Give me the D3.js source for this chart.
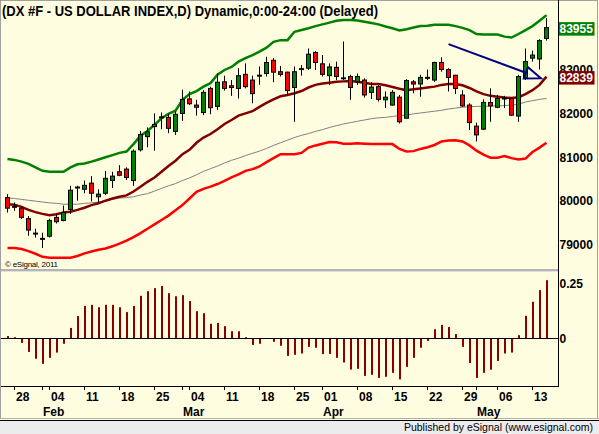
<!DOCTYPE html>
<html>
<head>
<meta charset="utf-8">
<script src="https://cdn.jsdelivr.net/npm/d3@7"></script>
<style>
  body { margin: 0; background: #fff; }
</style>
</head>
<body>
<div id="chart"></div>
<script>
// trading days 2013-01-25 .. 2013-05-15 (Good Friday closed)
const dates = d3.timeDay.range(new Date(2013, 0, 25), new Date(2013, 4, 16))
  .filter(d => d.getDay() > 0 && d.getDay() < 6)
  .map(d3.timeFormat("%Y-%m-%d"))
  .filter(d => d !== "2013-03-29");

const open = [80.08,79.87,79.84,79.60,79.26,79.14,79.20,79.63,79.56,79.81,
  80.31,80.27,80.41,80.10,80.18,80.47,80.67,80.73,80.47,81.17,
  81.47,81.70,81.91,81.91,81.59,82.00,82.33,82.19,82.02,82.57,
  82.16,82.72,82.63,82.57,82.89,82.76,82.86,82.91,83.21,82.95,
  82.94,82.59,83.01,83.03,83.39,83.13,82.86,83.05,82.80,82.84,
  82.72,82.76,82.48,82.61,82.31,82.19,82.37,81.89,82.72,82.67,
  82.81,82.76,83.16,83.00,82.87,82.42,82.19,81.71,81.64,82.25,
  82.14,82.34,82.34,81.94,82.80,83.26,83.24,83.71];
const high = [80.16,79.97,79.89,79.66,79.37,79.28,79.60,79.71,79.90,80.35,
  80.35,80.47,80.57,80.27,80.69,80.67,80.82,80.77,81.18,81.60,
  81.68,82.00,82.02,81.99,82.05,82.54,82.50,82.31,82.53,82.61,
  82.91,82.86,82.76,83.03,83.14,82.86,83.07,83.29,83.26,83.08,
  82.95,83.07,83.10,83.48,83.42,83.33,83.14,83.18,83.64,82.88,
  82.91,82.80,82.71,82.65,82.50,82.53,82.42,82.78,82.76,82.88,
  83.00,83.18,83.28,83.03,82.88,82.53,82.23,81.79,82.32,82.57,
  82.42,82.40,82.37,82.88,83.48,83.43,83.69,84.17];
const low = [79.74,79.78,79.59,79.21,79.17,78.93,79.17,79.49,79.54,79.71,
  80.01,80.18,79.99,79.96,80.14,80.30,80.57,80.48,80.35,81.13,
  81.23,81.15,81.64,81.55,81.51,81.83,82.19,81.95,81.96,81.98,
  82.08,82.52,82.40,82.34,82.57,82.23,82.65,82.84,82.71,82.84,
  82.40,81.81,82.86,82.99,82.99,82.84,82.65,82.76,82.76,82.31,
  82.65,82.36,82.33,82.27,82.12,82.18,81.77,81.89,82.46,82.38,
  82.76,82.72,82.95,82.50,82.44,82.15,81.62,81.36,81.62,81.81,
  82.12,82.12,81.94,81.81,82.76,83.18,83.00,83.66];
const close = [79.84,79.87,79.63,79.34,79.26,79.14,79.56,79.53,79.74,80.25,
  80.31,80.36,80.18,80.16,80.52,80.57,80.59,80.54,81.14,81.52,
  81.58,81.75,81.91,81.66,81.98,82.32,82.22,82.14,82.48,82.13,
  82.71,82.57,82.59,82.86,82.61,82.45,82.86,83.16,82.94,82.89,
  82.52,82.95,83.01,83.35,83.16,82.89,83.06,82.84,82.80,82.59,
  82.84,82.42,82.60,82.32,82.37,82.48,81.81,82.75,82.67,82.82,
  82.81,83.16,83.00,82.82,82.57,82.17,81.79,81.51,82.25,82.17,
  82.34,82.34,81.96,82.84,83.18,83.33,83.66,83.955];

const upperBand = [80.96,80.94,80.90,80.85,80.77,80.69,80.67,80.67,80.67,80.77,
  80.84,80.86,80.90,80.95,81.00,81.05,81.10,81.13,81.30,81.49,
  81.60,81.74,81.89,81.99,82.06,82.31,82.44,82.51,82.61,82.69,
  82.88,82.99,83.06,83.18,83.26,83.33,83.41,83.50,83.63,83.67,
  83.67,83.86,83.90,83.94,83.99,84.03,84.07,84.11,84.13,84.13,
  84.12,84.09,84.06,84.03,83.98,83.94,83.89,83.92,83.96,83.99,
  84.00,84.02,84.02,84.02,83.99,83.95,83.90,83.81,83.80,83.80,
  83.80,83.75,83.73,83.81,83.90,83.99,84.11,84.24];
const midLine = [79.93,79.92,79.87,79.80,79.75,79.71,79.68,79.70,79.74,79.76,
  79.80,79.85,79.91,79.95,80.01,80.06,80.10,80.13,80.22,80.33,
  80.44,80.54,80.67,80.80,80.92,81.07,81.17,81.33,81.45,81.53,
  81.64,81.76,81.85,81.95,82.00,82.05,82.15,82.24,82.32,82.39,
  82.42,82.46,82.51,82.59,82.65,82.68,82.70,82.72,82.73,82.74,
  82.72,82.70,82.67,82.67,82.64,82.60,82.56,82.53,82.55,82.57,
  82.59,82.61,82.65,82.67,82.67,82.64,82.58,82.50,82.44,82.40,
  82.38,82.36,82.35,82.37,82.44,82.53,82.65,82.839];
const lowerBand = [78.93,78.93,78.91,78.86,78.80,78.73,78.71,78.71,78.71,78.71,
  78.75,78.81,78.85,78.89,78.92,78.97,79.03,79.10,79.18,79.27,
  79.37,79.47,79.57,79.67,79.79,79.91,80.06,80.21,80.28,80.33,
  80.39,80.46,80.54,80.61,80.69,80.73,80.79,80.89,80.98,81.07,
  81.07,81.07,81.10,81.22,81.27,81.31,81.35,81.34,81.31,81.31,
  81.32,81.31,81.30,81.30,81.30,81.30,81.19,81.13,81.14,81.19,
  81.23,81.28,81.36,81.38,81.39,81.36,81.27,81.15,81.06,80.99,
  80.99,81.03,80.98,80.95,80.97,81.12,81.22,81.33];
const slowLine = [80.07,80.06,80.04,80.02,80.00,79.98,79.96,79.95,79.93,79.93,
  79.93,79.95,79.96,79.98,80.01,80.04,80.07,80.08,80.10,80.14,
  80.17,80.23,80.29,80.35,80.40,80.47,80.53,80.60,80.68,80.74,
  80.80,80.87,80.93,80.98,81.04,81.09,81.14,81.20,81.27,81.33,
  81.39,81.45,81.50,81.54,81.59,81.63,81.68,81.72,81.76,81.79,
  81.82,81.85,81.88,81.90,81.91,81.93,81.95,81.96,81.99,82.01,
  82.03,82.05,82.07,82.10,82.12,82.14,82.155,82.16,82.16,82.17,
  82.17,82.18,82.19,82.21,82.26,82.29,82.32,82.34];

const osc = [0.011,0.006,-0.020,-0.061,-0.092,-0.115,-0.088,-0.064,-0.024,0.048,
  0.102,0.148,0.153,0.142,0.153,0.153,0.142,0.120,0.148,0.194,
  0.215,0.229,0.239,0.206,0.192,0.197,0.170,0.124,0.115,0.067,
  0.071,0.056,0.033,0.033,0.006,-0.029,-0.024,-0.002,-0.015,-0.033,
  -0.079,-0.074,-0.068,-0.038,-0.042,-0.071,-0.070,-0.088,-0.109,-0.141,
  -0.138,-0.170,-0.165,-0.179,-0.174,-0.156,-0.186,-0.129,-0.088,-0.042,
  -0.011,0.042,0.062,0.052,0.020,-0.038,-0.111,-0.179,-0.156,-0.142,
  -0.102,-0.068,-0.064,0.015,0.103,0.167,0.220,0.265];

const priceTicks = [79, 80, 81, 82, 83];
const oscTicks = [0, 0.25];
const weekTicks = ["2013-01-28","2013-02-04","2013-02-11","2013-02-18","2013-02-25",
  "2013-03-04","2013-03-11","2013-03-18","2013-03-25","2013-04-01","2013-04-08",
  "2013-04-15","2013-04-22","2013-04-29","2013-05-06","2013-05-13"];
const monthStarts = ["2013-02-01","2013-03-01","2013-04-01","2013-05-01"];
const monthNames = ["Feb","Mar","Apr","May"];
const arrowFrom = { i: 63, v: 83.58 };
const arrowTo = { i: 76.2, v: 82.80 };

const W = 599, H = 434;
const FONT = "'Liberation Sans', Arial, sans-serif";
const axisX = 558;
const BG = "#FFFDE0";

const svg = d3.select("#chart").append("svg")
  .attr("width", W).attr("height", H)
  .style("font-family", FONT);

svg.append("rect").attr("width", W).attr("height", H).attr("fill", BG);

const x = d3.scalePoint().domain(dates).range([7, 546]);
const y = d3.scaleLinear().domain([79, 82]).range([245, 113.4]);
const yo = d3.scaleLinear().domain([0, 0.25]).range([338.5, 283.5]);

// panel frame
svg.append("line").attr("x1", 0.5).attr("x2", 0.5).attr("y1", 0).attr("y2", 419).attr("stroke", "#a0a0a0");
svg.append("line").attr("x1", 0).attr("x2", 598).attr("y1", 0.5).attr("y2", 0.5).attr("stroke", "#a0a0a0");
svg.append("line").attr("x1", 597.5).attr("x2", 597.5).attr("y1", 0).attr("y2", 419).attr("stroke", "#a0a0a0");
svg.append("rect").attr("x", 1).attr("y", 269).attr("width", axisX - 1).attr("height", 2).attr("fill", "#b4b4b4");
svg.append("rect").attr("x", 1).attr("y", 271).attr("width", axisX - 1).attr("height", 1).attr("fill", "#e0e0e0");

// footer
svg.append("rect").attr("x", 0).attr("y", 418).attr("width", W).attr("height", 1).attr("fill", "#b0b0b0");
svg.append("rect").attr("x", 0).attr("y", 420).attr("width", W).attr("height", 1).attr("fill", "#000");
svg.append("rect").attr("x", 0).attr("y", 421).attr("width", W).attr("height", 13).attr("fill", "#ececec");
svg.append("text").attr("x", 593).attr("y", 430.5).attr("text-anchor", "end")
  .attr("font-size", 10.5).attr("fill", "#000").text("Published by eSignal (www.esignal.com)");

svg.append("text").attr("x", 2).attr("y", 16).attr("font-size", 14).attr("font-weight", "bold")
  .attr("textLength", 376).attr("lengthAdjust", "spacingAndGlyphs")
  .text("(DX #F - US DOLLAR INDEX,D) Dynamic,0:00-24:00 (Delayed)");

svg.append("defs").append("clipPath").attr("id", "clipTop")
  .append("rect").attr("x", 1).attr("y", 1).attr("width", axisX - 1).attr("height", 268);

const topG = svg.append("g").attr("clip-path", "url(#clipTop)");

const line = arr => d3.line().x((d, i) => x(dates[i]) + 0.5).y(d => y(d))(arr);

topG.append("path").attr("d", line(slowLine)).attr("fill", "none").attr("stroke", "#808080").attr("stroke-width", 1);
topG.append("path").attr("d", line(upperBand)).attr("fill", "none").attr("stroke", "#008000").attr("stroke-width", 2.5);
topG.append("path").attr("d", line(lowerBand)).attr("fill", "none").attr("stroke", "#ff0000").attr("stroke-width", 2.5);
topG.append("path").attr("d", line(midLine)).attr("fill", "none").attr("stroke", "#800000").attr("stroke-width", 2.5);

const bars = dates.map((d, i) => ({ d, o: open[i], h: high[i], l: low[i], c: close[i] }));

const candle = topG.selectAll("g.candle").data(bars).join("g").attr("class", "candle");
candle.append("line")
  .attr("x1", b => x(b.d) + 0.5).attr("x2", b => x(b.d) + 0.5)
  .attr("y1", b => y(b.h)).attr("y2", b => y(b.l))
  .attr("stroke", "#000").attr("stroke-width", 1);
candle.filter(b => b.o !== b.c).append("rect")
  .attr("x", b => x(b.d) - 1.5).attr("width", 4)
  .attr("y", b => y(Math.max(b.o, b.c)))
  .attr("height", b => Math.max(1, y(Math.min(b.o, b.c)) - y(Math.max(b.o, b.c))))
  .attr("fill", b => b.c > b.o ? "#008000" : "#ff0000")
  .attr("stroke", "#000").attr("stroke-width", 1);
candle.filter(b => b.o === b.c).append("line")
  .attr("x1", b => x(b.d) - 2).attr("x2", b => x(b.d) + 3)
  .attr("y1", b => y(b.c)).attr("y2", b => y(b.c))
  .attr("stroke", "#000").attr("stroke-width", 2);

// arrow annotation
const xi = i => x(dates[Math.floor(i)]) + (i - Math.floor(i)) * x.step() + 0.5;
const ax0 = xi(arrowFrom.i), ay0 = y(arrowFrom.v);
const ax1 = xi(arrowTo.i), ay1 = y(arrowTo.v);
const len = Math.hypot(ax1 - ax0, ay1 - ay0);
const ux = (ax1 - ax0) / len, uy = (ay1 - ay0) / len;
const bx = ax1 - 16 * ux, by = ay1 - 16 * uy;
topG.append("line").attr("x1", ax0).attr("y1", ay0).attr("x2", bx).attr("y2", by)
  .attr("stroke", "#000080").attr("stroke-width", 2);
topG.append("path")
  .attr("d", `M${ax1},${ay1}L${bx - 6 * uy},${by + 6 * ux}L${bx + 6 * uy},${by - 6 * ux}Z`)
  .attr("fill", "none").attr("stroke", "#000080").attr("stroke-width", 2);

svg.append("text").attr("x", 5).attr("y", 267).attr("font-size", 8)
  .attr("textLength", 53).attr("fill", "#000").text("\u00a9 eSignal, 2011");

// right price axis
svg.append("g").attr("transform", `translate(${axisX},0)`)
  .call(d3.axisRight(y).tickValues(priceTicks).tickSize(0).tickPadding(1.5)
    .tickFormat(d => d3.format("d")(Math.round(d * 1000))))
  .attr("font-family", FONT)
  .call(g => g.select(".domain").remove())
  .selectAll("text").attr("font-size", 12).attr("font-weight", "bold").attr("fill", "#000");

function lastBox(value, fill) {
  const yy = y(value) + 1;
  svg.append("rect").attr("x", axisX + 0.5).attr("y", yy - 6.5).attr("width", 36).attr("height", 13.5).attr("fill", fill);
  svg.append("text").attr("x", axisX + 1.5).attr("y", yy).attr("dy", "0.36em")
    .attr("font-size", 12).attr("font-weight", "bold").attr("fill", "#fff")
    .text(d3.format("d")(Math.round(value * 1000)));
}
lastBox(close[close.length - 1], "#008000");
lastBox(midLine[midLine.length - 1], "#800000");

// oscillator panel
svg.append("g").selectAll("rect").data(osc).join("rect")
  .attr("x", (d, i) => x(dates[i])).attr("width", 2)
  .attr("y", d => Math.min(yo(0), yo(d)))
  .attr("height", d => Math.abs(yo(d) - yo(0)))
  .attr("fill", "#8b0000");
svg.append("line").attr("x1", 1).attr("x2", axisX).attr("y1", yo(0)).attr("y2", yo(0)).attr("stroke", "#000");

svg.append("g").attr("transform", `translate(${axisX},0)`)
  .call(d3.axisRight(yo).tickValues(oscTicks).tickSize(0).tickPadding(1.5).tickFormat(d => d === 0 ? "0" : d3.format(".2f")(d)))
  .attr("font-family", FONT)
  .call(g => g.select(".domain").remove())
  .selectAll("text").attr("font-size", 12).attr("font-weight", "bold").attr("fill", "#000");

// axes lines
svg.append("line").attr("x1", axisX + 0.5).attr("x2", axisX + 0.5).attr("y1", 0).attr("y2", 387).attr("stroke", "#000");
svg.append("line").attr("x1", 1).attr("x2", axisX + 1).attr("y1", 386.5).attr("y2", 386.5).attr("stroke", "#000");

// date axis
const tickDates = Array.from(new Set(weekTicks.concat(monthStarts))).sort();
const xAxisG = svg.append("g").attr("transform", "translate(0,386)")
  .call(d3.axisBottom(x).tickValues(tickDates).tickSize(4).tickPadding(2)
    .tickFormat(d => weekTicks.includes(d) ? d.slice(8) : ""))
  .attr("font-family", FONT);
xAxisG.select(".domain").remove();
xAxisG.selectAll("text").attr("text-anchor", "start").attr("x", 1.5)
  .attr("font-size", 12).attr("font-weight", "bold").attr("fill", "#000");

svg.append("g").selectAll("text").data(monthStarts).join("text")
  .attr("x", d => x(d) + 1).attr("y", 416)
  .attr("font-size", 12).attr("font-weight", "bold").attr("fill", "#000")
  .text((d, i) => monthNames[i]);
</script>
</body>
</html>
